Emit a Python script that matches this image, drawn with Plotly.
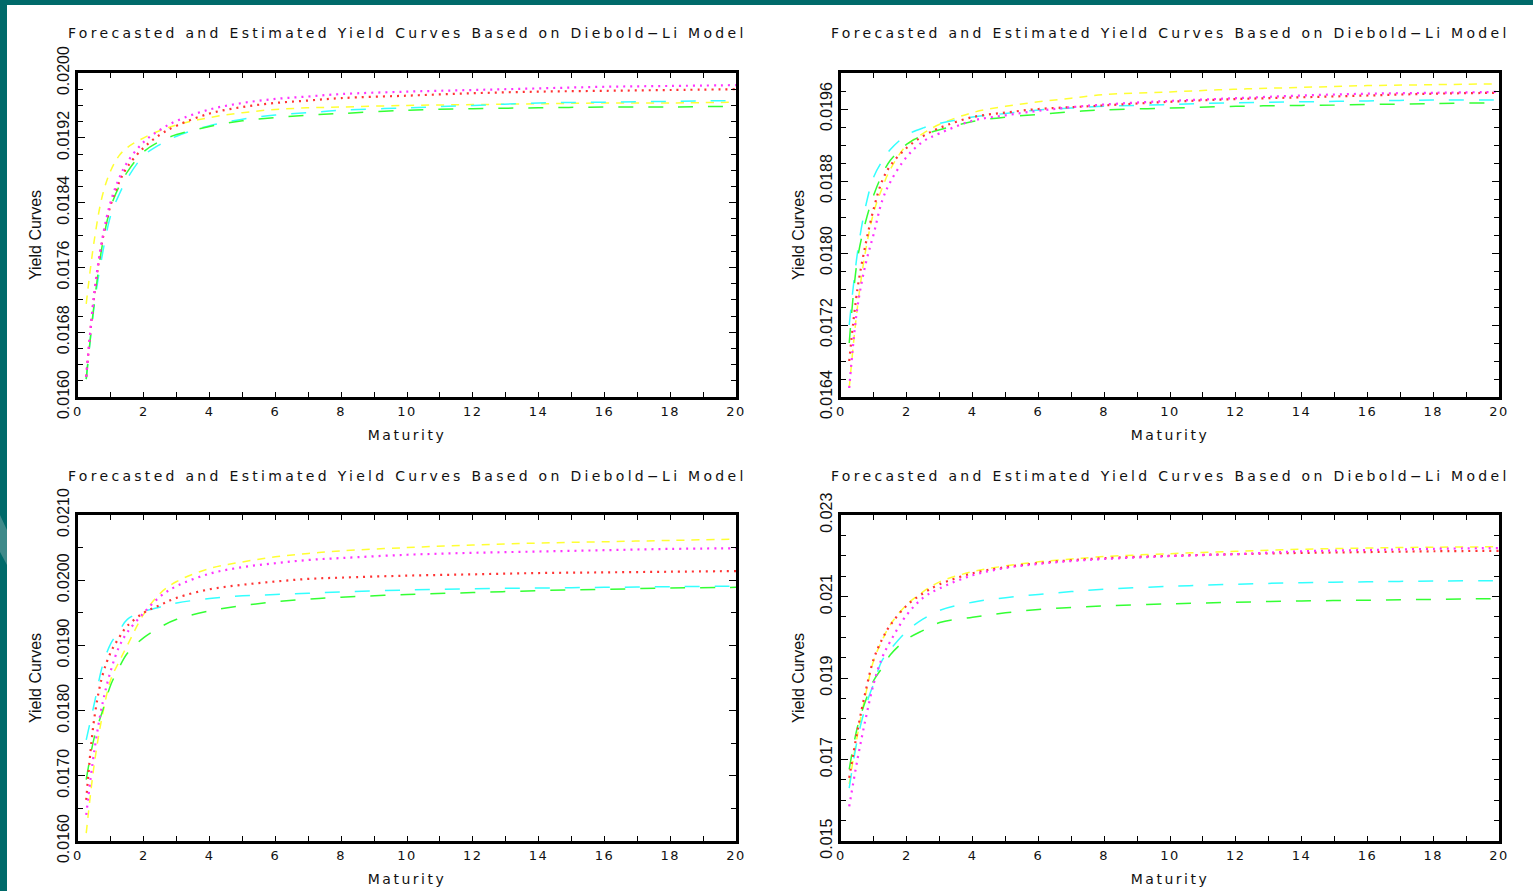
import plotly.graph_objects as go
from plotly.subplots import make_subplots

maturity = [0.25, 0.5, 0.75, 1, 1.25, 1.5, 2, 2.5, 3, 4, 5, 6, 7, 8, 10, 12, 14, 16, 18, 20]

# panel 1
p1_yellow = [0.01715, 0.01795, 0.01850, 0.01880, 0.01898, 0.01908, 0.01920, 0.01929, 0.01936, 0.01945,
             0.01951, 0.01955, 0.01957, 0.01958, 0.01960, 0.01961, 0.01962, 0.01963, 0.01963, 0.01964]
p1_cyan = [0.01622, 0.01715, 0.01778, 0.01825, 0.01850, 0.01870, 0.01898, 0.01912, 0.01922, 0.01935,
           0.01943, 0.01948, 0.01951, 0.01954, 0.01957, 0.01960, 0.01963, 0.01964, 0.01965, 0.01966]
p1_green = [0.01622, 0.01718, 0.01790, 0.01835, 0.01860, 0.01878, 0.01903, 0.01916, 0.01924, 0.01934,
            0.01941, 0.01945, 0.01948, 0.01950, 0.01954, 0.01956, 0.01957, 0.01958, 0.01958, 0.01959]
p1_red = [0.01625, 0.01728, 0.01795, 0.01838, 0.01865, 0.01884, 0.01908, 0.01924, 0.01935, 0.01950,
          0.01958, 0.01963, 0.01966, 0.01969, 0.01972, 0.01975, 0.01977, 0.01978, 0.01979, 0.01980]
p1_magenta = [0.01625, 0.01730, 0.01798, 0.01842, 0.01870, 0.01890, 0.01915, 0.01930, 0.01941, 0.01955,
              0.01963, 0.01968, 0.01971, 0.01974, 0.01977, 0.01979, 0.01981, 0.01983, 0.01984, 0.01985]

# panel 2
p2_yellow = [0.01650, 0.01740, 0.01803, 0.01846, 0.01872, 0.01893, 0.01920, 0.01933, 0.01943, 0.01956,
             0.01963, 0.01968, 0.01972, 0.01976, 0.01979, 0.01982, 0.01984, 0.01986, 0.01987, 0.01988]
p2_cyan = [0.01720, 0.01800, 0.01852, 0.01885, 0.01902, 0.01915, 0.01931, 0.01939, 0.01944, 0.01951,
           0.01955, 0.01959, 0.01961, 0.01963, 0.01965, 0.01967, 0.01968, 0.01969, 0.01970, 0.01970]
p2_green = [0.01700, 0.01793, 0.01835, 0.01865, 0.01887, 0.01903, 0.01921, 0.01931, 0.01937, 0.01946,
            0.01951, 0.01954, 0.01957, 0.01959, 0.01961, 0.01963, 0.01964, 0.01965, 0.01966, 0.01967]
p2_red = [0.01680, 0.01760, 0.01810, 0.01850, 0.01880, 0.01897, 0.01917, 0.01930, 0.01939, 0.01951,
          0.01956, 0.01960, 0.01962, 0.01964, 0.01968, 0.01971, 0.01973, 0.01975, 0.01977, 0.01978]
p2_magenta = [0.01650, 0.01740, 0.01788, 0.01822, 0.01858, 0.01879, 0.01907, 0.01924, 0.01933, 0.01947,
              0.01953, 0.01958, 0.01962, 0.01965, 0.01969, 0.01972, 0.01975, 0.01977, 0.01978, 0.01979]

# panel 3
p3_yellow = [0.01612, 0.01720, 0.01795, 0.01848, 0.01875, 0.01900, 0.01948, 0.01980, 0.01998, 0.02018,
             0.02028, 0.02036, 0.02041, 0.02045, 0.02050, 0.02054, 0.02057, 0.02059, 0.02061, 0.02063]
p3_cyan = [0.01755, 0.01812, 0.01870, 0.01903, 0.01922, 0.01940, 0.01952, 0.01959, 0.01965, 0.01972,
           0.01976, 0.01978, 0.01980, 0.01982, 0.01985, 0.01987, 0.01988, 0.01989, 0.01990, 0.01991]
p3_green = [0.01694, 0.01760, 0.01800, 0.01840, 0.01866, 0.01888, 0.01912, 0.01928, 0.01940, 0.01953,
            0.01961, 0.01967, 0.01971, 0.01974, 0.01978, 0.01981, 0.01984, 0.01986, 0.01988, 0.01989]
p3_red = [0.01663, 0.01790, 0.01855, 0.01890, 0.01912, 0.01930, 0.01950, 0.01962, 0.01973, 0.01986,
          0.01993, 0.01998, 0.02002, 0.02004, 0.02007, 0.02009, 0.02011, 0.02012, 0.02013, 0.02014]
p3_magenta = [0.01640, 0.01740, 0.01812, 0.01862, 0.01898, 0.01920, 0.01950, 0.01975, 0.01991, 0.02010,
              0.02020, 0.02026, 0.02031, 0.02034, 0.02039, 0.02042, 0.02044, 0.02046, 0.02048, 0.02049]

# panel 4
p4_yellow = [0.01640, 0.01760, 0.01860, 0.01945, 0.01992, 0.02031, 0.02080, 0.02112, 0.02136, 0.02161,
             0.02175, 0.02185, 0.02192, 0.02198, 0.02205, 0.02211, 0.02216, 0.02219, 0.02221, 0.02222]
p4_cyan = [0.01630, 0.01750, 0.01830, 0.01888, 0.01943, 0.01970, 0.02015, 0.02045, 0.02066, 0.02086,
           0.02097, 0.02105, 0.02112, 0.02118, 0.02125, 0.02130, 0.02134, 0.02136, 0.02138, 0.02139]
p4_green = [0.01676, 0.01780, 0.01845, 0.01895, 0.01925, 0.01957, 0.01995, 0.02017, 0.02036, 0.02049,
            0.02060, 0.02068, 0.02073, 0.02077, 0.02082, 0.02086, 0.02089, 0.02091, 0.02093, 0.02095]
p4_red = [0.01655, 0.01770, 0.01868, 0.01948, 0.01995, 0.02030, 0.02078, 0.02108, 0.02130, 0.02157,
          0.02172, 0.02182, 0.02189, 0.02194, 0.02200, 0.02204, 0.02207, 0.02209, 0.02211, 0.02212]
p4_magenta = [0.01585, 0.01700, 0.01800, 0.01888, 0.01950, 0.01990, 0.02055, 0.02097, 0.02120, 0.02152,
              0.02170, 0.02180, 0.02187, 0.02192, 0.02199, 0.02204, 0.02211, 0.02214, 0.02217, 0.02219]

title_text = "Forecasted and Estimated Yield Curves Based on Diebold\u2212Li Model"
x_title = "Maturity"
y_title = "Yield Curves"
x_ticks = [0, 2, 4, 6, 8, 10, 12, 14, 16, 18, 20]


def spaced(text, px):
    return '<span style="letter-spacing:%spx">%s</span>' % (px, text)


# (row, col, series, y range, label step, minor step, tick format)
panels = [
    (1, 1, [p1_yellow, p1_cyan, p1_green, p1_red, p1_magenta], [0.0160, 0.0200], 0.0008, 0.0002, ".4f"),
    (1, 2, [p2_yellow, p2_cyan, p2_green, p2_red, p2_magenta], [0.0164, 0.0200], 0.0008, 0.0002, ".4f"),
    (2, 1, [p3_yellow, p3_cyan, p3_green, p3_red, p3_magenta], [0.0160, 0.0210], 0.0010, 0.0005, ".4f"),
    (2, 2, [p4_yellow, p4_cyan, p4_green, p4_red, p4_magenta], [0.015, 0.023], 0.002, 0.0005, ".3f"),
]

styles = [
    ("#ffff33", "8px,7px", 1.5),
    ("#33ffff", "15px,15px", 1.5),
    ("#33ff33", "15px,15px", 1.5),
    ("#ff3333", "2px,5px", 2.2),
    ("#ff33ff", "2px,5px", 2.2),
]

W, H = 1533, 891
x_dom = {1: [78 / W, 736 / W], 2: [841 / W, 1499 / W]}
y_dom = {1: [1 - 397 / H, 1 - 73 / H], 2: [1 - 841 / H, 1 - 515 / H]}

fig = make_subplots(rows=2, cols=2)

for row, col, series, yr, dt, mdt, fmt in panels:
    for vals, (color, dash, width) in zip(series, styles):
        fig.add_trace(go.Scatter(x=maturity, y=vals, mode="lines", line_shape="spline",
                                 line=dict(color=color, dash=dash, width=width), showlegend=False),
                      row=row, col=col)
    fig.update_xaxes(domain=x_dom[col], range=[0, 20], tickvals=x_ticks, automargin=False,
                     ticktext=[spaced(str(t), 1.5) for t in x_ticks],
                     ticks="inside", ticklen=5, tickcolor="black", showline=True, linewidth=3,
                     linecolor="black", mirror="ticks", showgrid=False, zeroline=False,
                     minor=dict(dtick=1, ticks="inside", ticklen=5, tickcolor="black"),
                     tickfont=dict(family="DejaVu Sans", size=13, color="#111"),
                     title=dict(text=spaced(x_title, 2.5),
                                font=dict(family="DejaVu Sans", size=14, color="#111"), standoff=13),
                     row=row, col=col)
    fig.update_yaxes(domain=y_dom[row], range=yr, tick0=yr[0], dtick=dt, tickformat=fmt, tickangle=-90,
                     automargin=False, ticks="inside", ticklen=7, tickcolor="black", showline=True,
                     linewidth=3, linecolor="black", mirror="ticks", showgrid=False, zeroline=False,
                     minor=dict(dtick=mdt, ticks="inside", ticklen=5, tickcolor="black"),
                     tickfont=dict(family="Liberation Sans Narrow, Liberation Sans", size=16, color="#111"),
                     title=dict(text=y_title, font=dict(family="Liberation Sans", size=16, color="#111"),
                                standoff=9),
                     row=row, col=col)

for row, col in [(1, 1), (1, 2), (2, 1), (2, 2)]:
    ty = 1 - 33 / H if row == 1 else 1 - 476 / H
    fig.add_annotation(text=spaced(title_text, 3.3), x=sum(x_dom[col]) / 2, y=ty,
                       xref="paper", yref="paper", showarrow=False, xanchor="center", yanchor="middle",
                       font=dict(family="DejaVu Sans", size=14, color="#111"))

# teal frame on the left and top edges, with the light streak on the left strip
fig.add_shape(type="rect", xref="paper", yref="paper", x0=0, x1=7 / W, y0=0, y1=1,
              fillcolor="#006a6a", line_width=0, layer="below")
fig.add_shape(type="rect", xref="paper", yref="paper", x0=0, x1=1, y0=1 - 5 / H, y1=1,
              fillcolor="#006a6a", line_width=0, layer="below")
fig.add_shape(type="path", xref="paper", yref="paper", layer="below", line_width=0,
              fillcolor="#3f8a8a",
              path="M 0 %f L %f %f L %f %f L 0 %f Z" % (1 - 515 / H, 7 / W, 1 - 530 / H,
                                                        7 / W, 1 - 565 / H, 1 - 552 / H))

fig.update_layout(width=W, height=H, margin=dict(l=0, r=0, t=0, b=0, autoexpand=False),
                  plot_bgcolor="white", paper_bgcolor="white")

pin = ("var d=document.getElementById('{plot_id}');d.style.position='fixed';d.style.left='0';"
       "d.style.top='0';document.body.style.margin='0';document.body.style.overflow='hidden';")
fig.write_html("out.html", config={"displayModeBar": False}, post_script=pin)
